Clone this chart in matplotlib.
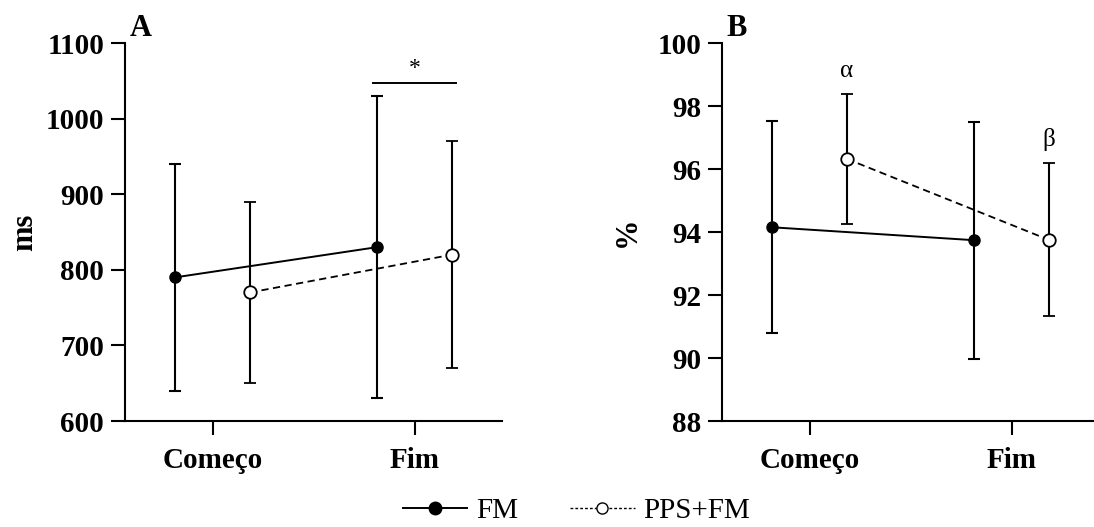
"""Reaction time and accuracy, FM vs PPS+FM, start vs end."""

import matplotlib.pyplot as plt
from matplotlib.lines import Line2D
import numpy as np

plt.rcParams["font.family"] = ["Liberation Serif", "DejaVu Serif"]

# categories
moments = ["Começo", "Fim"]

# panel A: time in ms (mean and SD)
fm_ms = [790, 830]
fm_ms_sd = [150, 200]
pps_ms = [770, 820]
pps_ms_sd = [120, 150]

# panel B: percent (mean and SD)
fm_pct = [94.15, 93.74]
fm_pct_sd = [3.37, 3.76]
pps_pct = [96.32, 93.75]
pps_pct_sd = [2.05, 2.43]

# marks above the PPS+FM points in B
pps_marks = ["α", "β"]

xpos = np.arange(1, len(moments) + 1)
shift = 0.185

fig = plt.figure(figsize=(10.94, 5.27), dpi=100)
ax_a = fig.add_axes([0.1143, 0.2011, 0.3446, 0.7173])
ax_b = fig.add_axes([0.66, 0.2011, 0.3446, 0.7173])


def draw_panel(ax, fm, fm_sd, pps, pps_sd):
    ax.errorbar(xpos - shift, fm, yerr=fm_sd, color="k", lw=1.4, ls="-",
                marker="o", ms=8, mfc="k", mec="k", elinewidth=1.5,
                capsize=4.5, capthick=1.5, zorder=3)
    ax.errorbar(xpos + shift, pps, yerr=pps_sd, color="k", lw=1.3, ls=(0, (4, 2.5)),
                marker="o", ms=9, mfc="white", mec="k", mew=1.3, elinewidth=1.5,
                capsize=4.5, capthick=1.5, zorder=3)
    ax.set_xlim(0.567, 2.433)
    ax.set_xticks(xpos)
    ax.set_xticklabels(moments, fontweight="bold", fontsize=21)
    for side in ("top", "right"):
        ax.spines[side].set_visible(False)
    for side in ("left", "bottom"):
        ax.spines[side].set_linewidth(1.5)
    ax.tick_params(axis="y", length=10, width=1.5, labelsize=21, pad=5)
    ax.tick_params(axis="x", length=10, width=1.5, labelsize=21, pad=9)


# panel A
draw_panel(ax_a, fm_ms, fm_ms_sd, pps_ms, pps_ms_sd)
ax_a.set_ylim(600, 1100)
ax_a.set_yticks(np.arange(600, 1101, 100))
for lbl in ax_a.get_yticklabels():
    lbl.set_fontweight("bold")
ax_a.set_ylabel("ms", fontsize=22, fontweight="bold", labelpad=5)
ax_a.text(0.59, 1100, "A", fontsize=22, fontweight="bold", ha="left", va="bottom")

# significance bar between groups at Fim
ax_a.plot([xpos[1] - shift - 0.02, xpos[1] + shift + 0.02], [1047, 1047], color="k", lw=1.4)
ax_a.text(xpos[1], 1052, "*", fontsize=17, ha="center", va="bottom")

# panel B
draw_panel(ax_b, fm_pct, fm_pct_sd, pps_pct, pps_pct_sd)
ax_b.set_ylim(88, 100)
ax_b.set_yticks(np.arange(88, 101, 2))
for lbl in ax_b.get_yticklabels():
    lbl.set_fontweight("bold")
ax_b.set_ylabel("%", fontsize=22, fontweight="bold", labelpad=11)
ax_b.text(0.59, 100.0, "B", fontsize=22, fontweight="bold", ha="left", va="bottom")
for i, mark in enumerate(pps_marks):
    top = pps_pct[i] + pps_pct_sd[i]
    ax_b.text(xpos[i] + shift, top + 0.4, mark, fontsize=18, ha="center", va="bottom")

# legend
handles = [
    Line2D([], [], color="k", lw=1.4, marker="o", ms=9, mfc="k", mec="k"),
    Line2D([], [], color="k", lw=1.0, ls=(0, (2, 1.5)), marker="o", ms=8,
           mfc="white", mec="k", mew=1.0),
]
fig.legend(handles, ["FM", "PPS+FM"], loc="lower center", ncol=2, frameon=False,
           fontsize=21, handlelength=2.2, columnspacing=1.8, handletextpad=0.3,
           bbox_to_anchor=(0.527, -0.045))

fig.savefig("out.png", dpi=100)
